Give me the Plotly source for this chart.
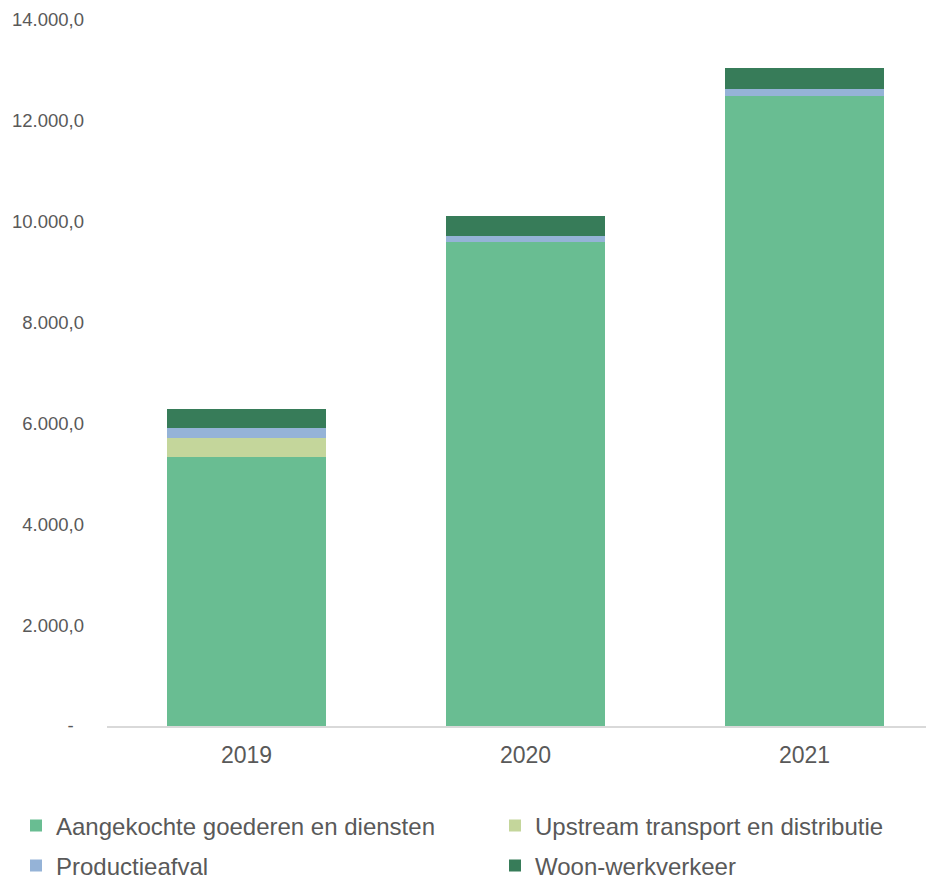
import plotly.graph_objects as go

years = ["2019", "2020", "2021"]
aangekochte = [5334, 9597, 12487]
upstream = [377, 0, 0]
productieafval = [198, 119, 139]
woon_werk = [377, 397, 416]

series_names = ["Aangekochte goederen en diensten", "Upstream transport en distributie",
                "Productieafval", "Woon-werkverkeer"]
colors = ["#69BD92", "#C4D69B", "#95B3D7", "#377C59"]

tick_vals = [0, 2000, 4000, 6000, 8000, 10000, 12000, 14000]
tick_text = ["-\u00a0\u00a0", "2.000,0", "4.000,0", "6.000,0", "8.000,0",
             "10.000,0", "12.000,0", "14.000,0"]

font = "Liberation Sans, Arial, sans-serif"
W, H = 926, 872  # page body has an 8px margin

fig = go.Figure()
data = [aangekochte, upstream, productieafval, woon_werk]
legend_ids = ["legend", "legend2", "legend3", "legend4"]
for name, vals, c, lg in zip(series_names, data, colors, legend_ids):
    fig.add_trace(go.Bar(x=years, y=vals, name=name, marker=dict(color=c, line=dict(width=0)),
                         legend=lg, showlegend=True))

# legend anchor positions (figure pixels)
legend_pos = [(8, 818), (487, 818), (8, 858), (487, 858)]
leg_layout = {}
for lg, (px, py) in zip(legend_ids, legend_pos):
    leg_layout[lg] = dict(x=px / W, xref="container", xanchor="left",
                          y=1 - py / H, yref="container", yanchor="middle",
                          orientation="h", font=dict(size=24, color="#595959", family=font),
                          bgcolor="rgba(0,0,0,0)", borderwidth=0, visible=True)

fig.update_layout(
    width=W, height=H,
    showlegend=True,
    margin=dict(l=99, r=0, t=12, b=154, autoexpand=False),
    barmode="stack", bargap=0.43,
    plot_bgcolor="white", paper_bgcolor="white",
    font=dict(family=font, color="#595959"),
    xaxis=dict(range=[-0.5, 2.464], showgrid=False, showline=True, linecolor="#D9D9D9",
               linewidth=1.5, ticks="", tickfont=dict(size=23, color="#595959"),
               ticklabelstandoff=8, automargin=False),
    yaxis=dict(range=[0, 14000], tickvals=tick_vals, ticktext=tick_text, showgrid=False,
               zeroline=False, showline=False, ticks="", tickfont=dict(size=18.5, color="#595959"),
               ticklabelstandoff=22, automargin=False),
    **leg_layout,
)

fig.write_html("out.html")
